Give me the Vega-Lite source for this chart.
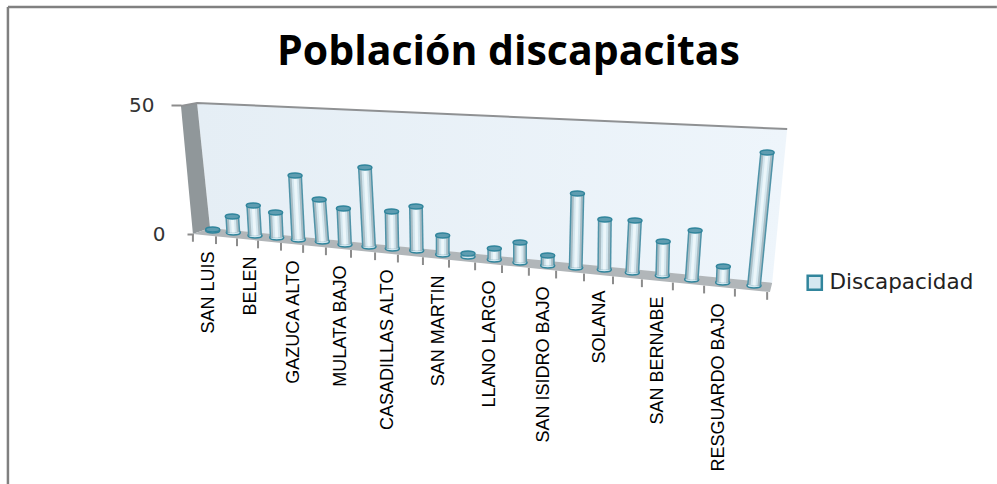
{
"$schema":"https://vega.github.io/schema/vega-lite/v6.json",
"width":997,"height":484,"autosize":{"type":"none"},"padding":0,"background":"white",
"title":{"text":"Población discapacitas","anchor":"middle","frame":"group","offset":-74,"dx":10,"font":"Open Sans","fontSize":41,"fontWeight":"bold","color":"#000000"},
"config":{"view":{"stroke":null}},
"datasets":{
"comunidades":[
{"comunidad":"SAN LUIS","orden":1,"Discapacidad":1,"orden_tope":1,"tope":1.74,"piso":1.36},
{"comunidad":"","orden":2,"Discapacidad":8,"orden_tope":1.95,"tope":6.78,"piso":0.58},
{"comunidad":"BELEN","orden":3,"Discapacidad":13,"orden_tope":2.92,"tope":11.05,"piso":-0.58},
{"comunidad":"","orden":4,"Discapacidad":11,"orden_tope":3.95,"tope":8.33,"piso":-1.36},
{"comunidad":"GAZUCA ALTO","orden":5,"Discapacidad":25,"orden_tope":4.85,"tope":22.67,"piso":-2.13},
{"comunidad":"","orden":6,"Discapacidad":17,"orden_tope":5.87,"tope":13.37,"piso":-2.91},
{"comunidad":"MULATA BAJO","orden":7,"Discapacidad":15,"orden_tope":6.93,"tope":9.88,"piso":-4.07},
{"comunidad":"","orden":8,"Discapacidad":30,"orden_tope":7.83,"tope":25.78,"piso":-4.84},
{"comunidad":"CASADILLAS ALTO","orden":9,"Discapacidad":15,"orden_tope":8.97,"tope":8.72,"piso":-5.62},
{"comunidad":"","orden":10,"Discapacidad":17,"orden_tope":9.97,"tope":10.66,"piso":-6.4},
{"comunidad":"SAN MARTIN","orden":11,"Discapacidad":8,"orden_tope":11,"tope":-0.58,"piso":-7.95},
{"comunidad":"","orden":12,"Discapacidad":3,"orden_tope":12,"tope":-7.56,"piso":-8.72},
{"comunidad":"LLANO LARGO","orden":13,"Discapacidad":5,"orden_tope":13,"tope":-5.62,"piso":-9.88},
{"comunidad":"","orden":14,"Discapacidad":8,"orden_tope":14,"tope":-3.29,"piso":-11.05},
{"comunidad":"SAN ISIDRO BAJO","orden":15,"Discapacidad":5,"orden_tope":15,"tope":-8.33,"piso":-12.2},
{"comunidad":"","orden":16,"Discapacidad":26,"orden_tope":16.06,"tope":15.7,"piso":-13},
{"comunidad":"SOLANA","orden":17,"Discapacidad":18,"orden_tope":17.02,"tope":5.62,"piso":-13.76},
{"comunidad":"","orden":18,"Discapacidad":18,"orden_tope":18.09,"tope":5.23,"piso":-14.92},
{"comunidad":"SAN BERNABE","orden":19,"Discapacidad":12,"orden_tope":19.03,"tope":-2.91,"piso":-16.09},
{"comunidad":"","orden":20,"Discapacidad":17,"orden_tope":20.11,"tope":1.36,"piso":-17.64},
{"comunidad":"RESGUARDO BAJO","orden":21,"Discapacidad":7,"orden_tope":21.02,"tope":-12.6,"piso":-18.8},
{"comunidad":"","orden":22,"Discapacidad":42,"orden_tope":22.42,"tope":31.6,"piso":-19.96}
],
"pared":[{"orden":0.24,"tope":50.78,"piso":50.78},{"orden":0.87,"tope":50.55,"piso":2.33},{"orden":22.58,"tope":40.96,"piso":-19},{"orden":23.06,"tope":40.7,"piso":40.7}],
"lateral":[{"orden":-0.54,"tope":49.6,"piso":49.6},{"orden":0.04,"tope":50.48,"piso":0},{"orden":0.24,"tope":50.78,"piso":0.54},{"orden":0.87,"tope":2.33,"piso":2.33}],
"suelo":[{"orden":0.04,"tope":0,"piso":0},{"orden":0.87,"tope":2.33,"piso":-0.66},{"orden":22.51,"tope":-18.8,"piso":-22.5},{"orden":22.58,"tope":-19,"piso":-19}],
"borde":[{"orden":-0.54,"tope":49.6},{"orden":0.24,"tope":50.78},{"orden":23.06,"tope":40.7}],
"marco":[{"orden":-8.94,"tope":-96.9},{"orden":-8.94,"tope":88}],
"marco_sup":[{"orden":-8.94,"tope":88},{"orden":29.76,"tope":88}],
"marcas":[
{"orden":0.04,"tope":0,"piso":-3},{"orden":1.16,"tope":-0.9,"piso":-3.9},{"orden":2.17,"tope":-1.72,"piso":-4.72},{"orden":3.14,"tope":-2.55,"piso":-5.55},
{"orden":4.2,"tope":-3.45,"piso":-6.45},{"orden":5.2,"tope":-4.31,"piso":-7.31},{"orden":6.16,"tope":-5.21,"piso":-8.21},{"orden":7.25,"tope":-6.19,"piso":-9.19},
{"orden":8.26,"tope":-7.13,"piso":-10.13},{"orden":9.23,"tope":-8.04,"piso":-11.04},{"orden":10.24,"tope":-9.02,"piso":-12.02},{"orden":11.25,"tope":-10.04,"piso":-13.04},
{"orden":12.27,"tope":-11.05,"piso":-14.05},{"orden":13.3,"tope":-12.11,"piso":-15.11},{"orden":14.32,"tope":-13.17,"piso":-16.17},{"orden":15.3,"tope":-14.23,"piso":-17.23},
{"orden":16.29,"tope":-15.33,"piso":-18.33},{"orden":17.31,"tope":-16.46,"piso":-19.46},{"orden":18.32,"tope":-17.6,"piso":-20.6},{"orden":19.36,"tope":-18.82,"piso":-21.82},
{"orden":20.4,"tope":-20.03,"piso":-23.03},{"orden":21.39,"tope":-21.25,"piso":-24.25},{"orden":22.42,"tope":-22.5,"piso":-25.5}
]
},
"resolve":{"axis":{"y":"independent"}},
"encoding":{
"x":{"field":"orden","type":"quantitative","axis":null,"scale":{"zero":false,"nice":false,"domain":[1,2,3,4,5,6,7,8,9,10,11,12,13,14,15,16,17,18,19,20,21,22],"range":[212.7,233.3,255,276.7,298.3,322.3,345,369,392.3,416.7,442.7,468,494.3,520,547.7,575.7,604.3,632.3,662.3,691.7,722.7,754]}}
},
"layer":[
{"data":{"name":"pared"},
 "mark":{"type":"area","fill":{"x1":0,"y1":0,"x2":1,"y2":0,"gradient":"linear","stops":[{"offset":0,"color":"#e5eef5"},{"offset":1,"color":"#eef5fb"}]}},
 "encoding":{"y":{"field":"tope","type":"quantitative","title":null,"scale":{"domain":[-96.9,90.7],"zero":false,"nice":false},
   "axis":{"orient":"left","values":[50],"offset":-181,"tickSize":10,"tickWidth":2,"tickColor":"#8c8c8c","labelPadding":17,"labelFont":"DejaVu Sans","labelFontSize":20,"labelColor":"#333333","domain":false,"grid":false}},"y2":{"field":"piso"}}},
{"data":{"name":"lateral"},
 "mark":{"type":"area","fill":"#90979a"},
 "encoding":{"y":{"field":"tope","type":"quantitative","title":null,"scale":{"domain":[-96.9,90.7],"zero":false,"nice":false},
   "axis":{"orient":"left","values":[0],"offset":-193,"tickSize":6,"tickWidth":2,"tickColor":"#8c8c8c","labelPadding":22,"labelFont":"DejaVu Sans","labelFontSize":20,"labelColor":"#333333","domain":false,"grid":false}},"y2":{"field":"piso"}}},
{"data":{"name":"suelo"},
 "mark":{"type":"area","fill":"#b1b6b9"},
 "encoding":{"y":{"field":"tope","type":"quantitative","axis":null},"y2":{"field":"piso"}}},
{"data":{"name":"borde"},
 "mark":{"type":"line","color":"#8f9193","strokeWidth":2},
 "encoding":{"y":{"field":"tope","type":"quantitative","axis":null}}},
{"data":{"name":"marco"},
 "mark":{"type":"line","color":"#808080","strokeWidth":2.5},
 "encoding":{"y":{"field":"tope","type":"quantitative","axis":null,"sort":null}}},
{"data":{"name":"marco_sup"},
 "mark":{"type":"line","color":"#808080","strokeWidth":2.5},
 "encoding":{"y":{"field":"tope","type":"quantitative","axis":null}}},
{"data":{"name":"marcas"},
 "mark":{"type":"rule","color":"#8c8c8c","strokeWidth":2},
 "encoding":{"y":{"field":"tope","type":"quantitative","axis":null},"y2":{"field":"piso"}}},
{"data":{"name":"comunidades"},
 "mark":{"type":"point","filled":true,"fill":"#d5e8f0","strokeWidth":1.5,"opacity":1,"shape":"M-1,0A1,0.35 0 1,1 1,0A1,0.35 0 1,1 -1,0Z","size":196},
 "encoding":{"y":{"field":"piso","type":"quantitative","axis":null},
  "stroke":{"datum":"Discapacidad","type":"nominal","scale":{"range":["#31859c"]},
   "legend":{"title":null,"orient":"none","legendX":804,"legendY":272,"symbolType":"square","symbolSize":200,"symbolStrokeColor":"#31859c","symbolStrokeWidth":2.5,"symbolOpacity":1,"labelFont":"DejaVu Sans","labelFontSize":21.5,"labelColor":"#222222","labelLimit":200,"labelOffset":4}}}},
{"data":{"name":"comunidades"},
 "mark":{"type":"rule","color":"#4f93a8","strokeWidth":14},
 "encoding":{"y":{"field":"piso","type":"quantitative","axis":null},"y2":{"field":"tope"},"x2":{"field":"orden_tope"}}},
{"data":{"name":"comunidades"},
 "mark":{"type":"rule","color":"#a8bcc4","strokeWidth":11},
 "encoding":{"y":{"field":"piso","type":"quantitative","axis":null},"y2":{"field":"tope"},"x2":{"field":"orden_tope"}}},
{"data":{"name":"comunidades"},
 "mark":{"type":"rule","color":"#d3e6ee","strokeWidth":7},
 "encoding":{"y":{"field":"piso","type":"quantitative","axis":null},"y2":{"field":"tope"},"x2":{"field":"orden_tope"}}},
{"data":{"name":"comunidades"},
 "mark":{"type":"rule","color":"#ecf6fa","strokeWidth":3},
 "encoding":{"y":{"field":"piso","type":"quantitative","axis":null},"y2":{"field":"tope"},"x2":{"field":"orden_tope"}}},
{"data":{"name":"comunidades"},
 "mark":{"type":"point","filled":true,"fill":"#5f9db1","stroke":"#31859c","strokeWidth":1.5,"opacity":1,"shape":"M-1,0A1,0.35 0 1,1 1,0A1,0.35 0 1,1 -1,0Z","size":196},
 "encoding":{"x":{"field":"orden_tope","type":"quantitative"},"y":{"field":"tope","type":"quantitative","axis":null}}},
{"data":{"name":"comunidades"},
 "transform":[{"filter":"datum.comunidad != ''"}],
 "mark":{"type":"text","angle":270,"align":"right","baseline":"middle","font":"Liberation Sans","fontSize":18,"color":"#000000","dx":-21,"dy":-4},
 "encoding":{"y":{"field":"piso","type":"quantitative","axis":null},"text":{"field":"comunidad","type":"nominal"}}}
]
}
